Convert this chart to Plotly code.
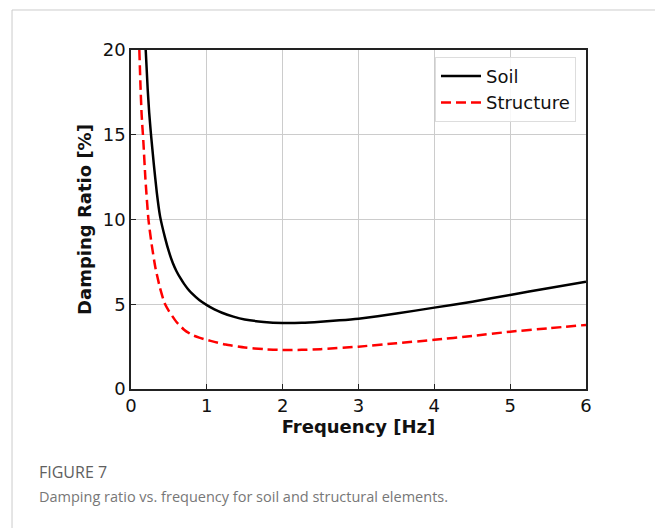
import plotly.graph_objects as go

# Damping ratio (%) vs frequency (Hz) for the two material groups
soil_freq = [0.194, 0.22, 0.24, 0.264, 0.3, 0.34, 0.383, 0.45, 0.5, 0.55, 0.6, 0.65, 0.7,
             0.75, 0.8, 0.9, 1.0, 1.1, 1.2, 1.35, 1.5, 1.75, 2.0, 2.25, 2.5, 2.75, 3.0,
             3.5, 4.0, 4.5, 5.0, 5.5, 6.0]
soil_damp = [20.0, 17.7, 16.3, 15.0, 13.3, 11.6, 10.2, 8.9, 8.1, 7.45, 6.95, 6.55, 6.2,
             5.9, 5.65, 5.25, 4.95, 4.7, 4.5, 4.27, 4.1, 3.96, 3.9, 3.91, 3.97, 4.05, 4.15,
             4.45, 4.8, 5.15, 5.55, 5.95, 6.33]

struct_freq = [0.11, 0.125, 0.14, 0.163, 0.19, 0.23, 0.27, 0.32, 0.38, 0.44, 0.5, 0.6,
               0.7, 0.8, 0.9, 1.0, 1.1, 1.25, 1.5, 1.75, 2.0, 2.25, 2.5, 3.0, 3.5, 4.0,
               4.5, 5.0, 5.5, 6.0]
struct_damp = [20.0, 17.9, 16.2, 14.6, 12.4, 10.0, 8.6, 7.2, 6.0, 5.1, 4.6, 3.95,
               3.5, 3.2, 3.03, 2.9, 2.78, 2.62, 2.45, 2.35, 2.3, 2.31, 2.35, 2.5, 2.7, 2.9,
               3.13, 3.38, 3.58, 3.78]

x_ticks = [0, 1, 2, 3, 4, 5, 6]
y_ticks = [0, 5, 10, 15, 20]

fig = go.Figure()
fig.add_trace(go.Scatter(x=soil_freq, y=soil_damp, mode="lines", name="Soil",
                         line=dict(color="black", width=2.5, shape="spline", smoothing=0.5)))
fig.add_trace(go.Scatter(x=struct_freq, y=struct_damp, mode="lines", name="Structure",
                         line=dict(color="#ff0000", width=2.5, dash="10px,5px",
                                   shape="spline", smoothing=0.5)))

axis_common = dict(
    showline=True, linecolor="#222", linewidth=1.5, mirror=True,
    showgrid=True, gridcolor="#cccccc", gridwidth=1,
    ticks="inside", ticklen=5, tickcolor="#222",
    tickfont=dict(family="DejaVu Sans", size=18, color="#111"),
    zeroline=False,
)

fig.update_xaxes(range=[0, 6], tickvals=x_ticks,
                 title=dict(text="<b>Frequency [Hz]</b>", standoff=4,
                            font=dict(family="DejaVu Sans", size=18, color="#111")),
                 **axis_common)
fig.update_yaxes(range=[0, 20], tickvals=y_ticks,
                 title=dict(text="<b>Damping Ratio [%]</b>", standoff=6,
                            font=dict(family="DejaVu Sans", size=18, color="#111")),
                 **axis_common)

fig.update_layout(
    width=655, height=528,
    margin=dict(l=131, r=69, t=50, b=139),
    paper_bgcolor="white", plot_bgcolor="white",
    showlegend=True,
    legend=dict(x=0.978, y=0.98, xanchor="right", yanchor="top",
                bgcolor="rgba(255,255,255,0.85)", bordercolor="#dddddd", borderwidth=1,
                font=dict(family="DejaVu Sans", size=18, color="#111"),
                itemwidth=40, tracegroupgap=0),
    shapes=[
        dict(type="line", xref="paper", yref="paper", x0=-0.2615, x1=1.2, y0=1.118, y1=1.118,
             line=dict(color="#cccccc", width=1)),
        dict(type="line", xref="paper", yref="paper", x0=-0.2615, x1=-0.2615, y0=1.118, y1=-0.42,
             line=dict(color="#cccccc", width=1)),
    ],
    annotations=[
        dict(text="FIGURE 7", xref="paper", yref="paper", x=-0.207, y=-0.245,
             xanchor="left", yanchor="middle", showarrow=False,
             font=dict(family="Open Sans", size=16, color="#606060")),
        dict(text="Damping ratio vs. frequency for soil and structural elements.",
             xref="paper", yref="paper", x=-0.207, y=-0.318,
             xanchor="left", yanchor="middle", showarrow=False,
             font=dict(family="Open Sans", size=14.5, color="#777777")),
    ],
)

fig.write_html("out.html")
